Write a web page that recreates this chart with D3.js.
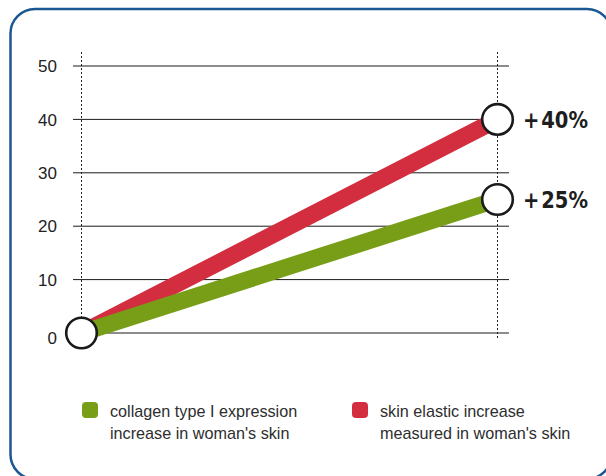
<html>
<head>
<meta charset="utf-8">
<script src="https://d3js.org/d3.v7.min.js"></script>
<style>
    body {
        margin: 0;
        background: #ffffff;
        font-family: "Liberation Sans", Arial, sans-serif;
    }
    .tick-label {
        font-size: 17px;
        fill: #222222;
    }
    .end-label {
        font-family: "DejaVu Sans Condensed", "Liberation Sans", sans-serif;
        font-weight: bold;
        font-size: 23px;
        fill: #1e1e1e;
    }
    .legend text {
        font-size: 16.2px;
        fill: #2e2e2e;
    }
</style>
</head>
<body>
<svg id="chart" width="606" height="476"></svg>

<script>
    // data
    let categories = ["start", "end"]
    let collagen = [0, 25]
    let elastic = [0, 40]
    let yTicks = [0, 10, 20, 30, 40, 50]
    let endLabels = ["+\u200a25%", "+\u200a40%"]
    let seriesNames = ["collagen type I expression|increase in woman's skin",
                       "skin elastic increase|measured in woman's skin"]
    let seriesColors = ["#789e17", "#d32e40"]

    let svg = d3.select("#chart")

    // frame
    svg.append("rect")
        .attr("x", 10.5)
        .attr("y", 9)
        .attr("width", 601)
        .attr("height", 470)
        .attr("rx", 24.5)
        .attr("fill", "none")
        .attr("stroke", "#1b5792")
        .attr("stroke-width", 2.5)

    let xScale = d3.scalePoint()
        .domain(categories)
        .range([81.5, 497.5])

    let yScale = d3.scaleLinear()
        .domain([0, 50])
        .range([333, 66])

    // grid lines
    svg.append("g")
        .selectAll("line")
        .data(yTicks)
        .enter()
        .append("line")
        .attr("x1", 73)
        .attr("x2", 509)
        .attr("y1", d => yScale(d))
        .attr("y2", d => yScale(d))
        .attr("stroke", "#1a1a1a")
        .attr("stroke-width", 1)

    svg.append("g")
        .selectAll("text")
        .data(yTicks)
        .enter()
        .append("text")
        .attr("class", "tick-label")
        .attr("x", 57)
        .attr("y", d => yScale(d) + (d === 0 ? 5 : 0))
        .attr("dy", "0.36em")
        .attr("text-anchor", "end")
        .text(d => d)

    // dotted verticals
    svg.append("g")
        .selectAll("line")
        .data(categories)
        .enter()
        .append("line")
        .attr("x1", d => xScale(d))
        .attr("x2", d => xScale(d))
        .attr("y1", 52)
        .attr("y2", 340)
        .attr("stroke", "#222")
        .attr("stroke-width", 1)
        .attr("stroke-dasharray", "2,2")

    // bands (red under green)
    let series = [
        {values: elastic, color: seriesColors[1]},
        {values: collagen, color: seriesColors[0]}
    ]
    let line = d3.line()
        .x((d, i) => xScale(categories[i]))
        .y(d => yScale(d))

    svg.append("g")
        .selectAll("path")
        .data(series)
        .enter()
        .append("path")
        .attr("d", d => line(d.values))
        .attr("fill", "none")
        .attr("stroke", d => d.color)
        .attr("stroke-width", 17)

    // circles
    let points = [
        {cat: categories[0], v: 0},
        {cat: categories[1], v: collagen[1]},
        {cat: categories[1], v: elastic[1]}
    ]
    svg.append("g")
        .selectAll("circle")
        .data(points)
        .enter()
        .append("circle")
        .attr("cx", d => xScale(d.cat))
        .attr("cy", d => yScale(d.v))
        .attr("r", 15.3)
        .attr("fill", "#ffffff")
        .attr("stroke", "#1a1a1a")
        .attr("stroke-width", 2.6)

    // end labels
    let ends = [collagen[1], elastic[1]]
    svg.append("g")
        .selectAll("text")
        .data(ends)
        .enter()
        .append("text")
        .attr("class", "end-label")
        .attr("x", 523)
        .attr("y", d => yScale(d))
        .attr("dy", "0.36em")
        .attr("textLength", 65)
        .attr("lengthAdjust", "spacingAndGlyphs")
        .text((d, i) => endLabels[i])

    // legend
    let legend = svg.append("g")
        .attr("class", "legend")
        .selectAll("g")
        .data(seriesNames)
        .enter()
        .append("g")
        .attr("transform", (d, i) => `translate(${[82, 352][i]},402)`)

    legend.append("rect")
        .attr("width", 16)
        .attr("height", 16)
        .attr("rx", 4)
        .attr("fill", (d, i) => seriesColors[i])

    legend.each(function(d) {
        let lines = d.split("|")
        d3.select(this).selectAll("text")
            .data(lines)
            .enter()
            .append("text")
            .attr("x", 28)
            .attr("y", (t, j) => 15 + j * 21.5)
            .text(t => t)
    })
</script>
</body>
</html>
